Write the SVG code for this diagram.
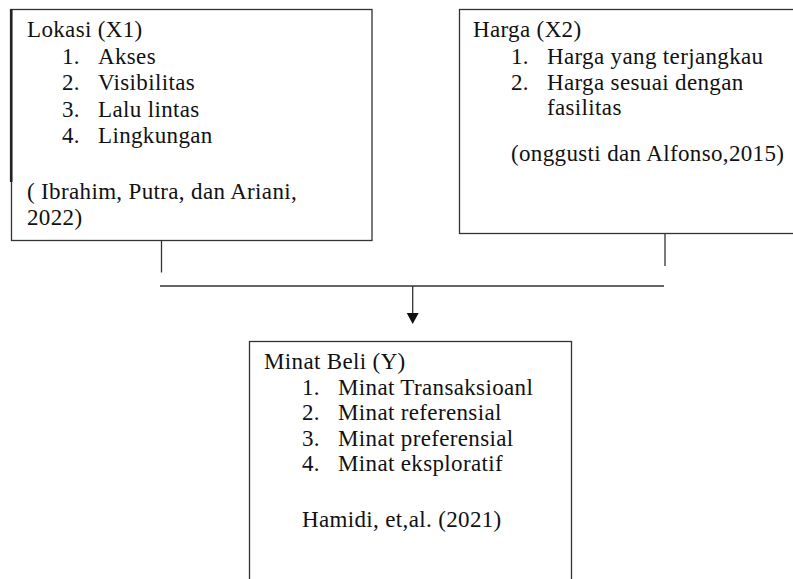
<svg xmlns="http://www.w3.org/2000/svg" width="793" height="579" viewBox="0 0 793 579">
<style>
.box{fill:#fff;stroke:#333;stroke-width:1.3}
.t{font-family:"Liberation Serif","Times New Roman",serif;font-size:23px;letter-spacing:0.35px;fill:#111}
.c{stroke:#333;stroke-width:1.3;fill:none}
</style>
<defs>
<marker id="arr" markerUnits="userSpaceOnUse" markerWidth="12" markerHeight="13" refX="0" refY="6" orient="auto" viewBox="0 0 12 12">
<path d="M0,0 L11,6 L0,12 z" fill="#111"/>
</marker>
</defs>
<rect width="793" height="579" fill="#fff"/>
<g id="lokasi">
<rect class="box" x="11.5" y="9.5" width="360.5" height="231"/>
<line x1="11.2" y1="9" x2="11.2" y2="182" stroke="#222" stroke-width="2.6"/>
<text class="t" x="27" y="37">Lokasi (X1)</text>
<text class="t" x="62" y="63.5">1.</text><text class="t" x="98" y="63.5">Akses</text>
<text class="t" x="62" y="90">2.</text><text class="t" x="98" y="90">Visibilitas</text>
<text class="t" x="62" y="116.5">3.</text><text class="t" x="98" y="116.5">Lalu lintas</text>
<text class="t" x="62" y="143">4.</text><text class="t" x="98" y="143">Lingkungan</text>
<text class="t" x="27" y="199">( Ibrahim, Putra, dan Ariani,</text>
<text class="t" x="27" y="225">2022)</text>
</g>
<g id="harga">
<rect class="box" x="459.5" y="9.5" width="345" height="224"/>
<text class="t" x="473" y="37">Harga (X2)</text>
<text class="t" x="511" y="63.5">1.</text><text class="t" x="547" y="63.5">Harga yang terjangkau</text>
<text class="t" x="511" y="89.5">2.</text><text class="t" x="547" y="89.5">Harga sesuai dengan</text>
<text class="t" x="547" y="115">fasilitas</text>
<text class="t" x="511" y="161">(onggusti dan Alfonso,2015)</text>
</g>
<g id="minat">
<rect class="box" x="249.5" y="341.5" width="322" height="260"/>
<text class="t" x="264" y="369">Minat Beli (Y)</text>
<text class="t" x="302" y="394.5">1.</text><text class="t" x="338" y="394.5">Minat Transaksioanl</text>
<text class="t" x="302" y="420">2.</text><text class="t" x="338" y="420">Minat referensial</text>
<text class="t" x="302" y="445.5">3.</text><text class="t" x="338" y="445.5">Minat preferensial</text>
<text class="t" x="302" y="471">4.</text><text class="t" x="338" y="471">Minat eksploratif</text>
<text class="t" x="302" y="527">Hamidi, et,al. (2021)</text>
</g>
<g id="connectors">
<line class="c" x1="161.5" y1="240.5" x2="161.5" y2="272.5"/>
<line class="c" x1="665" y1="233.5" x2="665" y2="266"/>
<line class="c" x1="160" y1="286" x2="664" y2="286"/>
<line class="c" x1="412.7" y1="286" x2="412.7" y2="313" marker-end="url(#arr)"/>
</g>
</svg>
